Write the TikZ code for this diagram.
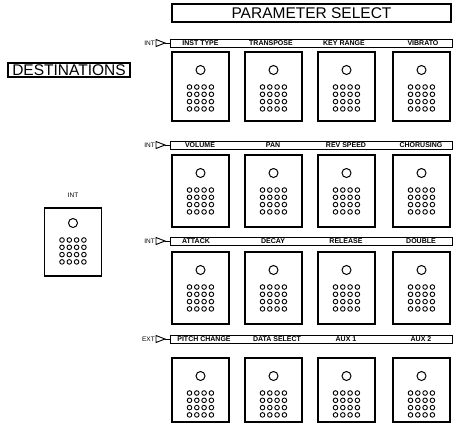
\documentclass[tikz,border=0pt]{standalone}
\usepackage{fontspec}
\setmainfont{Liberation Sans}
\begin{document}
\begin{tikzpicture}[x=1pt,y=-1pt,
  panel/.style={draw, line width=1.6pt, minimum width=57pt, inner sep=0pt, outer sep=0pt, anchor=north},
  bar/.style={draw, line width=0.9pt, minimum width=282pt, minimum height=8pt, inner sep=0pt, anchor=west},
  lbl/.style={font=\fontsize{7}{7}\selectfont\bfseries, inner sep=0pt},
  tag/.style={font=\fontsize{6.5}{6.5}\selectfont, inner sep=0pt, anchor=east},
  title/.style={draw, line width=1.2pt, inner sep=0pt},
  keypad/.pic={
    \draw[line width=1pt] (0,0) circle (4.5pt);
    \foreach \i in {0,...,3}
      \foreach \j in {0,...,3}
        \draw[line width=0.9pt] (-11+7.3*\i,17+7.3*\j) circle (2.3pt);
  }]
\useasboundingbox (0,0) rectangle (459,432);

% titles
\node[title, font=\fontsize{15.5}{15.5}\selectfont, minimum width=279pt, minimum height=18pt] (psel) at (311.5,13) {PARAMETER SELECT};
\node[title, font=\fontsize{15.5}{15.5}\selectfont, minimum width=122pt, minimum height=14pt] (dest) at (69,70) {DESTINATIONS};

% left INT panel
\node[tag, anchor=center] (intlab) at (73,195) {INT};
\node[panel, minimum height=68pt] (pint) at (73,208) {};
\path (pint.north) ++(0,15) pic {keypad};

% rows
\foreach \r/\by/\top/\h/\src in {1/43/52/69/INT, 2/145/155/72/INT, 3/241/252/72/INT, 4/339/358/64/EXT}{
  \node[bar] (b\r) at (170,\by) {};
  \coordinate (t\r) at (165,\by);
  \draw[line width=0.9pt] (t\r) -- ++(-9,-3.5) -- ++(0,7) -- cycle;
  \draw[line width=0.9pt] (t\r) -- (b\r.west);
  \node[tag] (s\r) at (155,\by) {\src};
  \foreach \c/\cx in {1/200.5, 2/273.5, 3/346.5, 4/421.5}{
    \node[panel, minimum height=\h pt] (p\r\c) at (\cx,\top) {};
    \path (p\r\c.north) ++(0,18) pic {keypad};
  }
}

% row labels
\node[lbl] (l11) at (200.5,43) {INST TYPE};
\node[lbl] (l12) at (271,43) {TRANSPOSE};
\node[lbl] (l13) at (344,43) {KEY RANGE};
\node[lbl] (l14) at (423,43) {VIBRATO};

\node[lbl] (l21) at (200,145) {VOLUME};
\node[lbl] (l22) at (273,145) {PAN};
\node[lbl] (l23) at (346,145) {REV SPEED};
\node[lbl] (l24) at (421,145) {CHORUSING};

\node[lbl] (l31) at (196,241) {ATTACK};
\node[lbl] (l32) at (273,241) {DECAY};
\node[lbl] (l33) at (346,241) {RELEASE};
\node[lbl] (l34) at (421,241) {DOUBLE};

\node[lbl] (l41) at (204,339) {PITCH CHANGE};
\node[lbl] (l42) at (277,339) {DATA SELECT};
\node[lbl] (l43) at (346,339) {AUX 1};
\node[lbl] (l44) at (421,339) {AUX 2};
\end{tikzpicture}
\end{document}
